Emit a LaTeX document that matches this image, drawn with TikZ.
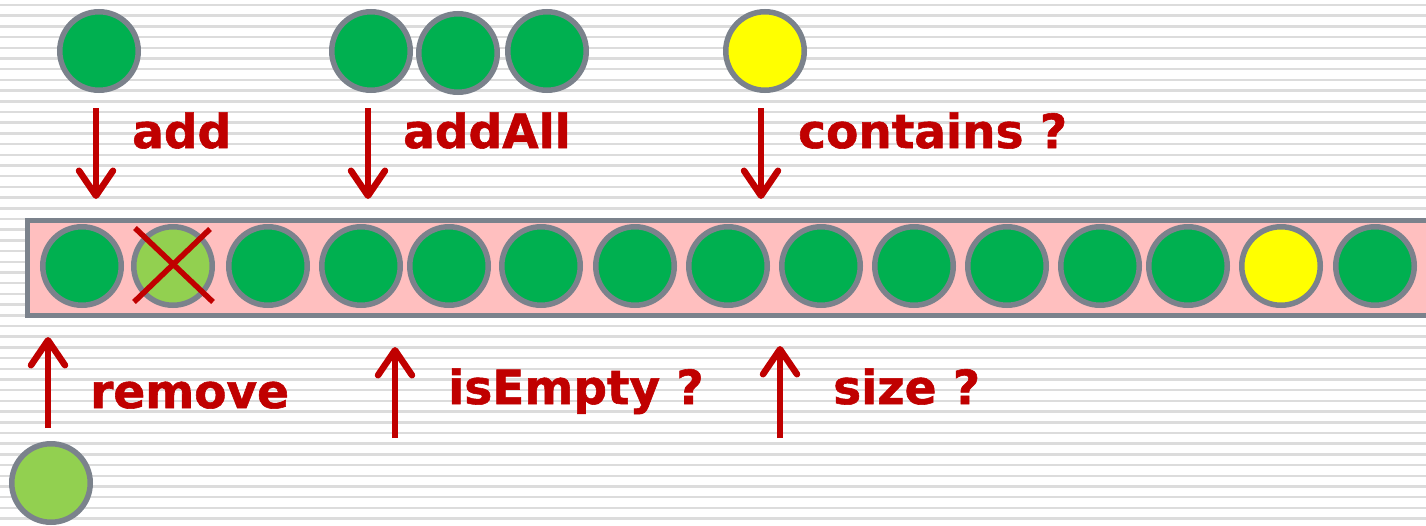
\documentclass[tikz,border=0pt]{standalone}
\usepackage{fontspec}
\setmainfont{DejaVu Sans}[BoldFeatures={FakeBold=1.2}]
\usetikzlibrary{arrows.meta}
\definecolor{darkred}{HTML}{C00000}
\definecolor{ballgreen}{HTML}{00B050}
\definecolor{lightgreen}{HTML}{92D050}
\definecolor{ballyellow}{HTML}{FFFF00}
\definecolor{rim}{HTML}{7B828C}
\definecolor{barpink}{HTML}{FFBFBF}
\definecolor{stripegray}{HTML}{DCDCDC}
\tikzset{
  ball/.style={circle,draw=rim,line width=5.5pt,minimum size=78.5pt,inner sep=0pt},
  gball/.style={ball,fill=ballgreen},
  lball/.style={ball,fill=lightgreen},
  yball/.style={ball,fill=ballyellow},
  op/.style={anchor=base west,inner sep=0pt,text=darkred,font=\fontsize{47}{56}\selectfont\bfseries},
  arr/.style={draw=darkred,line width=6.5pt,-{Straight Barb[length=25pt,width=34pt,line width=6.5pt,round]}},
  crossline/.style={draw=darkred,line width=5.5pt},
  stripe/.style={draw=stripegray,line width=2.5pt},
  barbox/.style={draw=rim,fill=barpink,line width=5pt}
}
\begin{document}
\begin{tikzpicture}[x=1pt,y=-1pt]
\useasboundingbox (0,0) rectangle (1426,525);
\clip (0,0) rectangle (1426,525);
\fill[white] (0,0) rectangle (1426,525);
\foreach \i in {0,...,49}
  \draw[stripe] (0,5+10.7*\i) -- (1426,5+10.7*\i);
% bar
\draw[barbox] (1440,220.5) -- (27.5,220.5) -- (27.5,315.5) -- (1440,315.5);
% balls in bar
\node[gball] (b1) at (82,266) {};
\node[lball] (b2) at (173,266) {};
\node[gball] (b3) at (268,266) {};
\node[gball] (b4) at (361,266) {};
\node[gball] (b5) at (449,266) {};
\node[gball] (b6) at (541,266) {};
\node[gball] (b7) at (635,266) {};
\node[gball] (b8) at (728,266) {};
\node[gball] (b9) at (821,266) {};
\node[gball] (b10) at (914,266) {};
\node[gball] (b11) at (1007,266) {};
\node[gball] (b12) at (1100,266) {};
\node[gball] (b13) at (1188,266) {};
\node[yball] (b14) at (1281,266) {};
\node[gball] (b15) at (1375,266) {};
% cross on removed ball
\draw[crossline] (135,228) -- (213,302);
\draw[crossline] (134,302) -- (210,229);
% top balls
\node[gball] (t1) at (99,51) {};
\node[gball] (t2) at (371,51) {};
\node[gball] (t3) at (458,53) {};
\node[gball] (t4) at (547,51) {};
\node[yball] (t5) at (765,51) {};
% bottom ball
\node[lball] (r1) at (51,483) {};
% arrows
\coordinate (addS) at (96,108);   \coordinate (addE) at (96,199);
\coordinate (allS) at (368,108);  \coordinate (allE) at (368,199);
\coordinate (conS) at (761,108);  \coordinate (conE) at (761,199);
\coordinate (remS) at (48,428);   \coordinate (remE) at (48,337);
\coordinate (empS) at (395,438);  \coordinate (empE) at (395,347);
\coordinate (sizS) at (780,438);  \coordinate (sizE) at (780,346);
\draw[arr] (addS) -- (addE);
\draw[arr] (allS) -- (allE);
\draw[arr] (conS) -- (conE);
\draw[arr] (remS) -- (remE);
\draw[arr] (empS) -- (empE);
\draw[arr] (sizS) -- (sizE);
% labels
\node[op] (ladd) at (132,148) {add};
\node[op] (lall) at (403,148) {addAll};
\node[op] (lcon) at (798,148) {contains ?};
\node[op] (lrem) at (90,408) {remove};
\node[op] (lemp) at (448,404) {isEmpty ?};
\node[op] (lsiz) at (833,404) {size ?};
\end{tikzpicture}
\end{document}
